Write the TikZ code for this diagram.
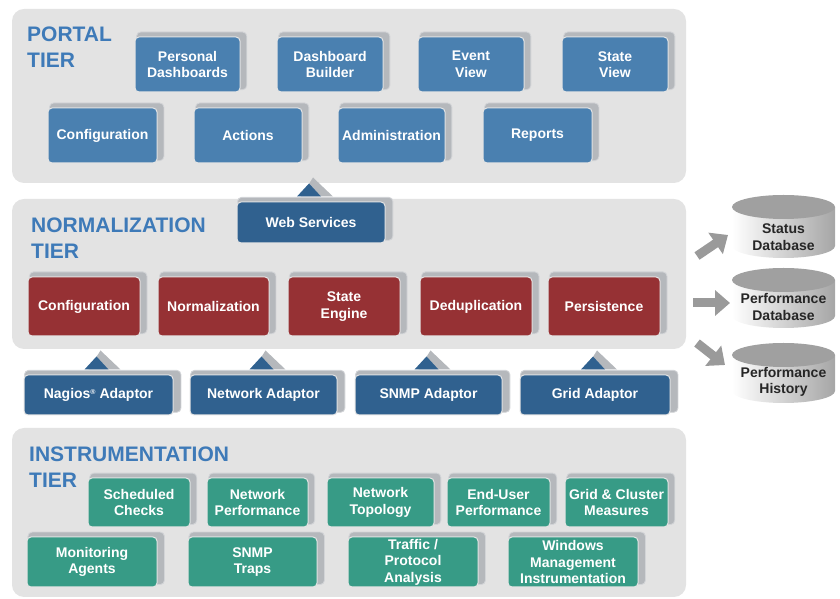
\documentclass[tikz,border=0pt]{standalone}
\usepackage{fontspec}
\setmainfont{Liberation Sans}
\usetikzlibrary{shadows,arrows.meta,calc}

\definecolor{panelgray}{HTML}{E3E3E3}
\definecolor{portalblue}{HTML}{4A80B0}
\definecolor{adaptblue}{HTML}{30618F}
\definecolor{normred}{HTML}{963134}
\definecolor{instgreen}{HTML}{379B86}
\definecolor{titleblue}{HTML}{3E7AB8}
\definecolor{slab}{HTML}{B5B8BC}
\definecolor{slabedge}{HTML}{D2D4D7}
\definecolor{dbgray}{HTML}{A0A0A0}
\definecolor{dbtext}{HTML}{262626}
\definecolor{arrowgray}{HTML}{9A9A9A}

\begin{document}
\begin{tikzpicture}[x=1pt,y=1pt,
	panel/.style={rectangle,rounded corners=12pt,fill=panelgray,minimum width=674pt},
	tiertitle/.style={anchor=north west,inner sep=0pt,align=left,text=titleblue,font=\fontsize{21}{25.5}\selectfont\bfseries},
	slabbox/.style={rectangle,rounded corners=4pt,fill=#1,draw=white!80!gray,line width=1pt,
		text=white,align=center,inner sep=1pt,font=\fontsize{14}{16.5}\selectfont\bfseries,
		general shadow={shadow xshift=4pt,shadow yshift=3.5pt,shadow scale=1.05,fill=slab,draw=slabedge,line width=0.8pt}},
	portalbox/.style={slabbox=portalblue,minimum height=55pt},
	adaptbox/.style={slabbox=adaptblue,minimum height=41pt},
	normbox/.style={slabbox=normred,minimum height=59pt,minimum width=112pt},
	instbox/.style={slabbox=instgreen},
	dbarrow/.style={draw=arrowgray,line width=9pt,-{Triangle[length=15pt,width=25pt]}},
	dblabel/.style={text=dbtext,align=center,font=\fontsize{14}{16.5}\selectfont\bfseries}]
	\useasboundingbox (0,0) rectangle (840,599);

	% tiers
	\node[panel,minimum height=174pt] (portal) at (349,503) {};
	\node[panel,minimum height=150pt] (normal) at (349,325) {};
	\node[panel,minimum height=169pt] (instr) at (349,86.5) {};
	\node[tiertitle] (ptitle) at (27,572) {PORTAL\\TIER};
	\node[tiertitle] (ntitle) at (31,381) {NORMALIZATION\\TIER};
	\node[tiertitle] (ititle) at (29,152) {INSTRUMENTATION\\TIER};

	\begin{scope}
		\node[portalbox,minimum width=105pt] (pd) at (187.5,534.5) {Personal\\Dashboards};
		\node[portalbox,minimum width=106pt] (dbuild) at (330,534.5) {Dashboard\\Builder};
		\node[portalbox,minimum width=106pt] (ev) at (471,534.5) {Event\\View};
		\node[portalbox,minimum width=106pt] (sv) at (615,534.5) {State\\View};
		\node[portalbox,minimum width=109pt] (pconf) at (102.5,463.5) {Configuration};
		\node[portalbox,minimum width=108pt] (act) at (248,463.5) {Actions};
		\node[portalbox,minimum width=107pt] (adm) at (391.5,463.5) {Administration};
		\node[portalbox,minimum width=109pt] (rep) at (537.5,463.5) {Reports};
	\end{scope}

	\begin{scope}
		\node[adaptbox,minimum width=148pt] (ws) at (311,376.5) {Web Services};
		\node[normbox] (nconf) at (84,292.5) {Configuration};
		\node[normbox,minimum width=111pt] (norm) at (213.5,292.5) {Normalization};
		\node[normbox] (se) at (344,292.5) {State\\Engine};
		\node[normbox] (dedup) at (476,292.5) {Deduplication};
		\node[normbox] (pers) at (604,292.5) {Persistence};
	\end{scope}

	\begin{scope}
		\node[adaptbox,minimum width=149pt,minimum height=40pt] (nag) at (98.5,204) {Nagios\raisebox{4pt}{\fontsize{7}{7}\selectfont\textregistered} Adaptor};
		\node[adaptbox,minimum width=147pt,minimum height=40pt] (netad) at (263.5,204) {Network Adaptor};
		\node[adaptbox,minimum width=147pt,minimum height=40pt] (snmpad) at (428.5,204) {SNMP Adaptor};
		\node[adaptbox,minimum width=150pt,minimum height=40pt] (gridad) at (595,204) {Grid Adaptor};
	\end{scope}

	% pointers up
	\foreach \n in {ws,nag,netad,snmpad,gridad}{
		\fill[slab] ($(\n.north)+(-10,5)$) -- ++(12,19) -- ++(20,-19) -- cycle;
		\fill[adaptblue] ($(\n.north)+(-14,5)$) -- ++(12,13) -- ++(12,-13) -- cycle;
	}

	\begin{scope}
		\node[instbox,minimum width=102pt,minimum height=49pt] (sched) at (139,96.5) {Scheduled\\Checks};
		\node[instbox,minimum width=101pt,minimum height=49pt] (netperf) at (257.5,96.5) {Network\\Performance};
		\node[instbox,minimum width=107pt,minimum height=49pt] (nettopo) at (380.5,96.5) {Network\\Topology};
		\node[instbox,minimum width=103pt,minimum height=49pt] (eup) at (498.5,96.5) {End-User\\Performance};
		\node[instbox,minimum width=103pt,minimum height=49pt] (grid) at (616.5,96.5) {Grid \& Cluster\\Measures};
		\node[instbox,minimum width=130pt,minimum height=50pt] (agents) at (92,37) {Monitoring\\Agents};
		\node[instbox,minimum width=129pt,minimum height=50pt] (traps) at (252.5,37) {SNMP\\Traps};
		\node[instbox,minimum width=130pt,minimum height=50pt] (traffic) at (413,37) {Traffic /\\Protocol\\Analysis};
		\node[instbox,minimum width=130pt,minimum height=50pt] (wmi) at (573,37) {Windows\\Management\\Instrumentation};
	\end{scope}

	% databases
	\foreach \yc/\yb/\nm/\txt in {392/353/sdb/{Status\\Database},319/283/pdb/{Performance\\Database},244/208/phist/{Performance\\History}}{
		\shade[left color=white,right color=gray!70] (732,\yc) -- (732,\yb) arc[start angle=180,end angle=360,x radius=51.5,y radius=12] -- (835,\yc) -- cycle;
		\fill[dbgray] (783.5,\yc) ellipse[x radius=51.5,y radius=12];
		\node[dblabel] (\nm) at (783.5,\yb+9) {\txt};
	}

	\coordinate (a1) at (697,343); \coordinate (a1e) at (728,364);
	\coordinate (a2) at (693,296); \coordinate (a2e) at (730,296);
	\coordinate (a3) at (697,256); \coordinate (a3e) at (725,234);
	\draw[dbarrow] (a1) -- (a1e);
	\draw[dbarrow] (a2) -- (a2e);
	\draw[dbarrow] (a3) -- (a3e);
\end{tikzpicture}
\end{document}
